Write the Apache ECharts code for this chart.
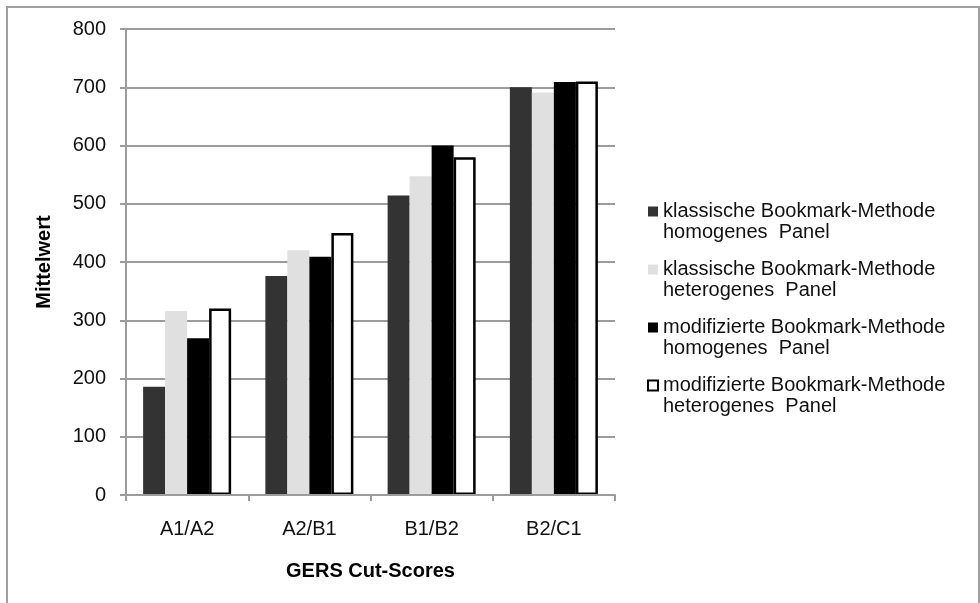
<!DOCTYPE html>
<html>
<head>
<meta charset="utf-8">
<script src="https://cdn.jsdelivr.net/npm/echarts@6/dist/echarts.min.js"></script>
<style>
  html, body { margin: 0; padding: 0; background: #fff; }
  #chart { width: 980px; height: 603px; }
</style>
</head>
<body>
<div id="chart"></div>
<script>
// Cut-score categories on the x axis
const categories = ['A1/A2', 'A2/B1', 'B1/B2', 'B2/C1'];

// Mean cut scores per method and panel
const klassischHomogen = [186, 376, 514, 700];
const klassischHeterogen = [316, 420, 547, 691];
const modifiziertHomogen = [269, 409, 600, 709];
const modifiziertHeterogen = [320, 450, 580, 710];

// Series names (two-line legend entries)
const seriesNames = [
  'klassische Bookmark-Methode\nhomogenes  Panel',
  'klassische Bookmark-Methode\nheterogenes  Panel',
  'modifizierte Bookmark-Methode\nhomogenes  Panel',
  'modifizierte Bookmark-Methode\nheterogenes  Panel'
];

const yTicks = { min: 0, max: 800, interval: 100 };

const FONT = '"Liberation Sans", Arial, sans-serif';
const GRID_GRAY = '#9c9c9c';

const chart = echarts.init(document.getElementById('chart'), null, { renderer: 'canvas' });

function barSeries(name, data, fill, border) {
  return {
    name: name,
    type: 'bar',
    data: data,
    barGap: '0%',
    barCategoryGap: '28%',
    itemStyle: border
      ? { color: fill, borderColor: border, borderWidth: 2.5 }
      : { color: fill },
    emphasis: { disabled: true }
  };
}

chart.setOption({
  animation: false,
  backgroundColor: '#ffffff',
  textStyle: { fontFamily: FONT },
  graphic: [{
    type: 'rect',
    shape: { x: 7, y: 7, width: 972, height: 640 },
    style: { fill: 'none', stroke: '#a0a0a0', lineWidth: 2 },
    z: -1
  }],
  grid: { left: 126, right: 365, top: 29, bottom: 108 },
  legend: {
    orient: 'vertical',
    left: 647,
    top: 180,
    padding: 0,
    itemWidth: 10,
    itemHeight: 10,
    itemGap: -5,
    icon: 'rect',
    selectedMode: false,
    // a blank leading line keeps the marker level with the first text line
    formatter: function (name) { return ' \n' + name; },
    textStyle: {
      fontFamily: FONT,
      fontSize: 20,
      lineHeight: 21,
      color: '#111'
    },
    data: seriesNames
  },
  xAxis: {
    type: 'category',
    data: categories,
    z: 5,
    name: 'GERS Cut-Scores',
    nameLocation: 'middle',
    nameGap: 66,
    nameTextStyle: { fontFamily: FONT, fontSize: 20, fontWeight: 'bold', color: '#000' },
    axisLine: { lineStyle: { color: GRID_GRAY, width: 2 } },
    axisTick: { show: true, length: 6, alignWithLabel: false, lineStyle: { color: GRID_GRAY, width: 2 } },
    axisLabel: { fontFamily: FONT, fontSize: 20, color: '#111', margin: 24 }
  },
  yAxis: {
    type: 'value',
    min: yTicks.min,
    max: yTicks.max,
    interval: yTicks.interval,
    name: 'Mittelwert',
    nameLocation: 'middle',
    nameGap: 72,
    nameRotate: 90,
    nameTextStyle: { fontFamily: FONT, fontSize: 20, fontWeight: 'bold', color: '#000' },
    axisLine: { show: true, lineStyle: { color: GRID_GRAY, width: 2 } },
    axisTick: { show: true, length: 6, lineStyle: { color: GRID_GRAY, width: 2 } },
    axisLabel: { fontFamily: FONT, fontSize: 20, color: '#111', margin: 20 },
    splitLine: { show: true, lineStyle: { color: GRID_GRAY, width: 2 } }
  },
  series: [
    barSeries(seriesNames[0], klassischHomogen, '#333333'),
    barSeries(seriesNames[1], klassischHeterogen, '#e0e0e0'),
    barSeries(seriesNames[2], modifiziertHomogen, '#000000'),
    barSeries(seriesNames[3], modifiziertHeterogen, '#ffffff', '#000000')
  ]
});
</script>
</body>
</html>
